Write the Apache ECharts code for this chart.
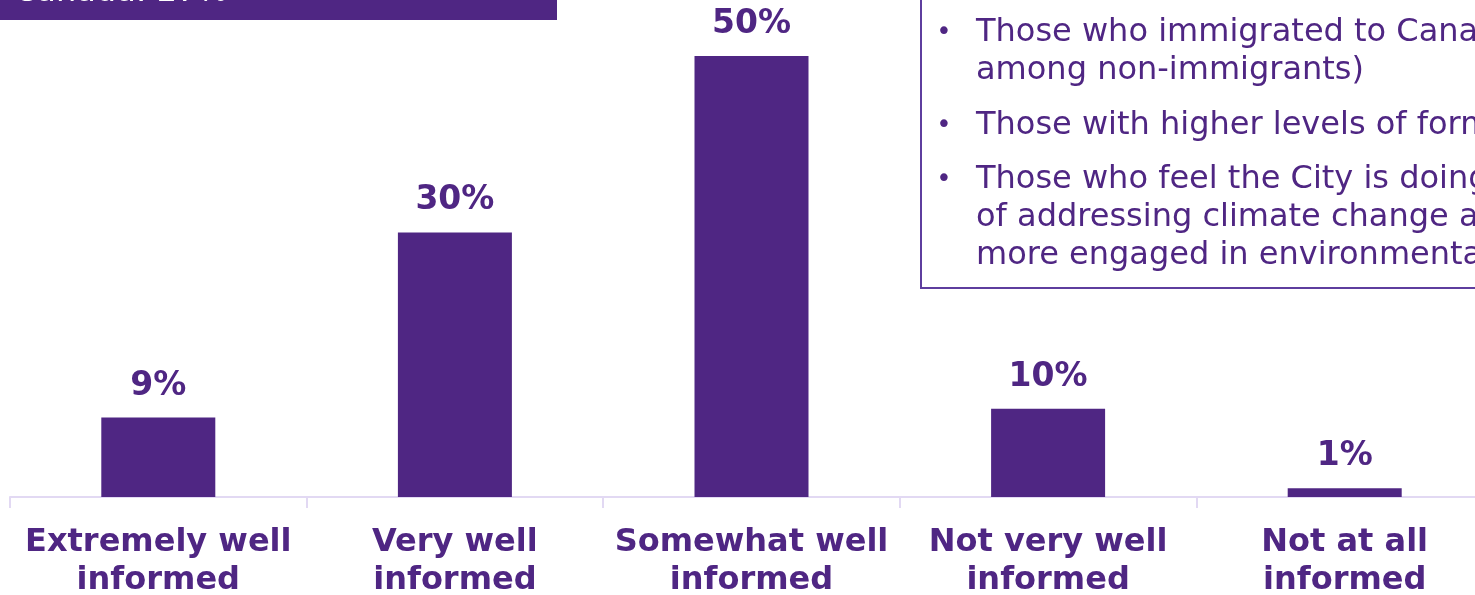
<!DOCTYPE html>
<html>
<head>
<meta charset="utf-8">
<script src="https://cdn.jsdelivr.net/npm/echarts@6/dist/echarts.min.js"></script>
<style>
  html, body { margin: 0; padding: 0; background: #fff; }
  #chart { width: 1475px; height: 595px; }
</style>
</head>
<body>
<div id="chart"></div>
<script>
// Self-rated awareness levels (% of respondents)
const categories = [
  'Extremely well\ninformed',
  'Very well\ninformed',
  'Somewhat well\ninformed',
  'Not very well\ninformed',
  'Not at all\ninformed'
];
const shares = [9, 30, 50, 10, 1];

const calloutTitle = 'Canada: 27%';
const calloutLines = [
  'Those who immigrated to Canada',
  'among non-immigrants)',
  'Those with higher levels of formal',
  'Those who feel the City is doing',
  'of addressing climate change and',
  'more engaged in environmental'
];
const bulletStarts = [true, false, true, true, false, false];

const PURPLE = '#4F2683';
const FONT = '"DejaVu Sans", Verdana, sans-serif';

const lineY = [33, 71, 126, 180, 218, 256];
const noteGraphics = [];
calloutLines.forEach((t, i) => {
  noteGraphics.push({
    type: 'text', x: 976, y: lineY[i],
    style: { text: t, fill: PURPLE, font: '32px ' + FONT, verticalAlign: 'middle', align: 'left' }
  });
  if (bulletStarts[i]) {
    noteGraphics.push({
      type: 'text', x: 944, y: lineY[i],
      style: { text: '•', fill: PURPLE, font: '26px ' + FONT, verticalAlign: 'middle', align: 'center' }
    });
  }
});

const chart = echarts.init(document.getElementById('chart'), null, { renderer: 'canvas' });
chart.setOption({
  animation: false,
  backgroundColor: '#ffffff',
  grid: {
    left: 10, width: 1483, top: 56, bottom: 98,
    containLabel: false, outerBoundsMode: 'none'
  },
  xAxis: {
    type: 'category',
    data: categories,
    axisLine: { show: true, lineStyle: { color: '#E2D9F3', width: 2 } },
    axisTick: { show: true, length: 11, lineStyle: { color: '#E2D9F3', width: 2 } },
    axisLabel: {
      margin: 27,
      color: PURPLE,
      fontFamily: FONT,
      fontWeight: 'bold',
      fontSize: 32,
      lineHeight: 38,
      interval: 0,
      align: 'center'
    }
  },
  yAxis: {
    type: 'value', min: 0, max: 50, show: false,
    splitLine: { show: false }
  },
  series: [{
    type: 'bar',
    data: shares,
    barWidth: 114,
    itemStyle: { color: PURPLE },
    label: {
      show: true,
      position: 'top',
      distance: 15,
      formatter: '{c}%',
      color: PURPLE,
      fontFamily: FONT,
      fontWeight: 'bold',
      fontSize: 33
    }
  }],
  graphic: [
    {
      type: 'rect', x: 0, y: 0,
      shape: { x: 0, y: -40, width: 557, height: 60 },
      style: { fill: PURPLE }
    },
    {
      type: 'text', x: 14, y: 9,
      style: { text: calloutTitle, fill: '#ffffff', font: '32px ' + FONT, verticalAlign: 'bottom' }
    },
    {
      type: 'rect', x: 0, y: 0,
      shape: { x: 921, y: -40, width: 620, height: 328 },
      style: { fill: 'none', stroke: '#5E3E9E', lineWidth: 2 }
    }
  ].concat(noteGraphics)
});
</script>
</body>
</html>
